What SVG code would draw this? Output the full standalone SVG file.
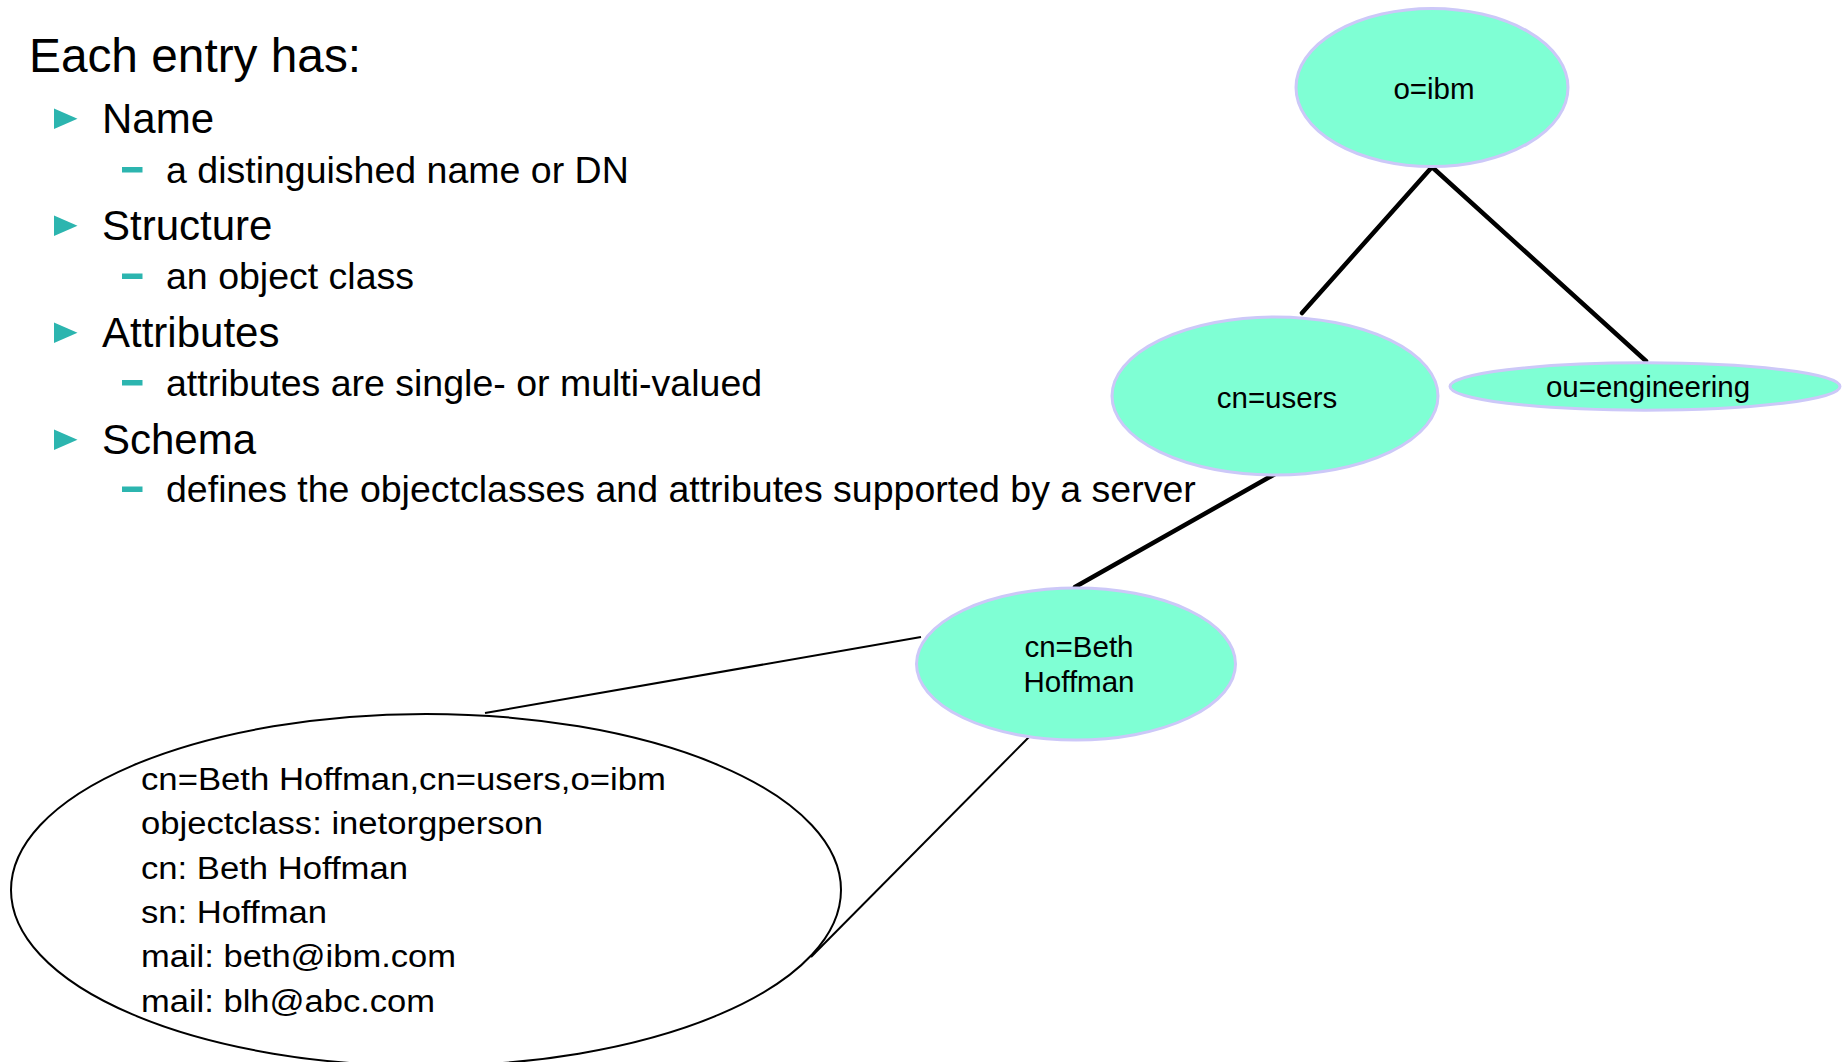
<svg xmlns="http://www.w3.org/2000/svg" width="1842" height="1062" viewBox="0 0 1842 1062">
<defs>
<style>
.t{font-family:"Liberation Sans",Arial,sans-serif;fill:#000}
.title{font-size:47.8px}
.l1{font-size:42px}
.l2{font-size:37.5px}
.node{fill:#7FFFD4;stroke:#CCC8F8;stroke-width:3}
.lbl{font-size:29.5px;text-anchor:middle}
.big{font-size:31px}
.thick{stroke:#000;stroke-width:4.5;stroke-linecap:round;fill:none}
.thin{stroke:#000;stroke-width:2;fill:none}
.bul{fill:#2CB5AF}
</style>
</defs>
<rect width="1842" height="1062" fill="#fff"/>
<g id="bullets">
<text class="t title" x="29" y="72">Each entry has:</text>
<polygon class="bul" points="54,108.5 77.5,118.7 54,129"/>
<text class="t l1" x="102" y="132.5">Name</text>
<rect class="bul" x="122" y="167" width="20.5" height="5.5"/>
<text class="t l2" x="166" y="182.5">a distinguished name or DN</text>
<polygon class="bul" points="54,215.5 77.5,225.7 54,236"/>
<text class="t l1" x="102" y="239.5">Structure</text>
<rect class="bul" x="122" y="273.5" width="20.5" height="5.5"/>
<text class="t l2" x="166" y="289">an object class</text>
<polygon class="bul" points="54,322.5 77.5,332.7 54,343"/>
<text class="t l1" x="102" y="346.5">Attributes</text>
<rect class="bul" x="122" y="380" width="20.5" height="5.5"/>
<text class="t l2" x="166" y="395.5">attributes are single- or multi-valued</text>
<polygon class="bul" points="54,429.5 77.5,439.7 54,450"/>
<text class="t l1" x="102" y="453.5">Schema</text>
<rect class="bul" x="122" y="486.5" width="20.5" height="5.5"/>
<text class="t l2" x="166" y="502">defines the objectclasses and attributes supported by a server</text>
</g>
<g id="connectors">
<line class="thick" x1="1432" y1="167" x2="1302" y2="313"/>
<line class="thick" x1="1432" y1="167" x2="1646" y2="361"/>
<line class="thick" x1="1275" y1="474" x2="1075" y2="587"/>
<line class="thin" x1="921" y1="637" x2="485" y2="713"/>
<line class="thin" x1="1031" y1="735" x2="811" y2="957"/>
</g>
<g id="node-ibm">
<ellipse class="node" cx="1432" cy="87.5" rx="136" ry="79"/>
<text class="t lbl" x="1434" y="99">o=ibm</text>
</g>
<g id="node-users">
<ellipse class="node" cx="1275" cy="396" rx="163" ry="79"/>
<text class="t lbl" x="1277" y="408">cn=users</text>
</g>
<g id="node-engineering">
<ellipse class="node" cx="1645" cy="386.5" rx="195" ry="23.7"/>
<text class="t lbl" x="1648" y="397">ou=engineering</text>
</g>
<g id="node-beth">
<ellipse class="node" cx="1076" cy="664" rx="159.5" ry="76"/>
<text class="t lbl" x="1079" y="657">cn=Beth</text>
<text class="t lbl" x="1079" y="692">Hoffman</text>
</g>
<g id="node-entry">
<ellipse cx="426" cy="890" rx="415" ry="176" fill="none" stroke="#000" stroke-width="2"/>
<text class="t big" x="141" y="790" textLength="525" lengthAdjust="spacingAndGlyphs">cn=Beth Hoffman,cn=users,o=ibm</text>
<text class="t big" x="141" y="834.3" textLength="402" lengthAdjust="spacingAndGlyphs">objectclass: inetorgperson</text>
<text class="t big" x="141" y="878.6" textLength="267" lengthAdjust="spacingAndGlyphs">cn: Beth Hoffman</text>
<text class="t big" x="141" y="922.9" textLength="186" lengthAdjust="spacingAndGlyphs">sn: Hoffman</text>
<text class="t big" x="141" y="967.2" textLength="315" lengthAdjust="spacingAndGlyphs">mail: beth@ibm.com</text>
<text class="t big" x="141" y="1011.5" textLength="294" lengthAdjust="spacingAndGlyphs">mail: blh@abc.com</text>
</g>
</svg>
